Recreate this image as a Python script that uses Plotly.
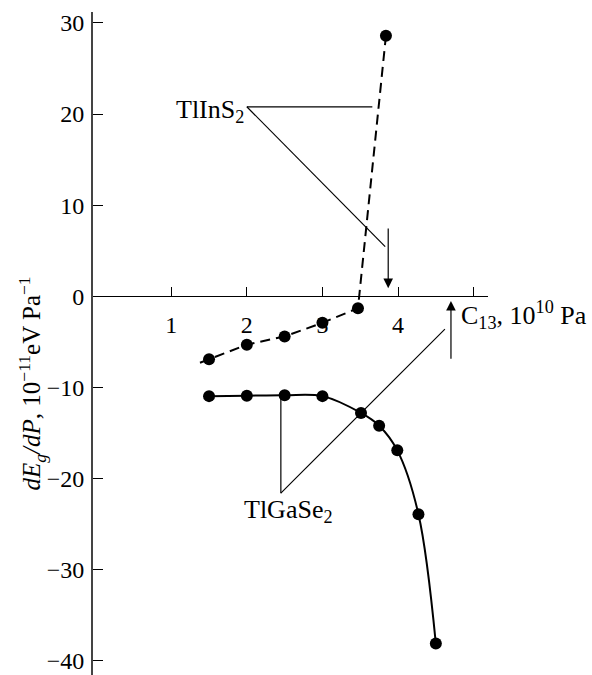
import plotly.graph_objects as go

# ---- data ----
c13_tlins2 = [1.5, 2.0, 2.5, 3.0, 3.47, 3.84]
dedp_tlins2 = [-6.9, -5.3, -4.4, -2.9, -1.3, 28.6]

c13_tlgase2 = [1.5, 2.0, 2.5, 3.0, 3.51, 3.75, 3.99, 4.27, 4.50]
dedp_tlgase2 = [-10.95, -10.9, -10.85, -10.95, -12.8, -14.2, -16.9, -23.9, -38.1]

y_ticks = [-40, -30, -20, -10, 0, 10, 20, 30]
y_ticktext = ["\u221240", "\u221230", "\u221220", "\u221210", "0", "10", "20", "30"]
x_ticks = [1, 2, 3, 4, 5]
x_ticktext = ["1", "2", "3", "4", ""]

FONT = "Liberation Serif"
FS_TICK = 24
FS_LAB = 26
FS_TITLE = 25

x_range = [-0.035, 5.19]
y_range = [-41.55, 31.2]

# dashed line begins slightly before the first point (extrapolated from first segment)
ext = 0.12
slope0 = (dedp_tlins2[1] - dedp_tlins2[0]) / (c13_tlins2[1] - c13_tlins2[0])
dash_x = [c13_tlins2[0] - ext] + c13_tlins2
dash_y = [dedp_tlins2[0] - ext * slope0] + dedp_tlins2

fig = go.Figure()
fig.add_trace(go.Scatter(x=dash_x, y=dash_y, mode="lines",
                         line=dict(color="black", width=2, dash="10px,6px"),
                         hoverinfo="skip", showlegend=False))
fig.add_trace(go.Scatter(x=c13_tlins2, y=dedp_tlins2, mode="markers",
                         marker=dict(color="black", size=12), showlegend=False))
fig.add_trace(go.Scatter(x=c13_tlgase2, y=dedp_tlgase2, mode="lines+markers",
                         line=dict(color="black", width=2, shape="spline", smoothing=1.0),
                         marker=dict(color="black", size=12), showlegend=False))

# leader lines for labels
lw = 1.2
leaders = [
    (2.0, 20.8, 3.66, 20.8),
    (2.0, 20.8, 3.83, 5.45),
    (2.45, -21.6, 2.45, -11.0),
    (2.45, -21.6, 4.62, -3.6),
]
for x0, y0, x1, y1 in leaders:
    fig.add_shape(type="line", x0=x0, y0=y0, x1=x1, y1=y1, xref="x", yref="y",
                  line=dict(color="black", width=lw))

# arrows
arrows = [
    (3.87, 0.9, 3.87, 7.6),
    (4.70, -0.5, 4.70, -7.0),
]
for x, y, ax, ay in arrows:
    fig.add_annotation(x=x, y=y, ax=ax, ay=ay, xref="x", yref="y", axref="x", ayref="y",
                       showarrow=True, arrowhead=2, arrowsize=1.6, arrowwidth=1.2,
                       arrowcolor="black", text="")

fig.add_annotation(x=1.99, y=20.3, xref="x", yref="y", text="TlInS<sub>2</sub>",
                   showarrow=False, xanchor="right", yanchor="middle",
                   font=dict(family=FONT, size=FS_LAB, color="black"))
fig.add_annotation(x=2.55, y=-23.6, xref="x", yref="y", text="TlGaSe<sub>2</sub>",
                   showarrow=False, xanchor="center", yanchor="middle",
                   font=dict(family=FONT, size=FS_LAB, color="black"))
fig.add_annotation(x=4.80, y=-2.05, xref="x", yref="y",
                   text="C<sub>13</sub>, 10<sup>10</sup> Pa",
                   showarrow=False, xanchor="left", yanchor="middle",
                   font=dict(family=FONT, size=FS_LAB, color="black"))
fig.add_annotation(x=-0.154, y=0.44, xref="paper", yref="paper", textangle=-90,
                   text="<i>dE</i><sub><i>g</i></sub><i>/dP</i>, 10<sup>\u221211</sup>eV Pa<sup>\u22121</sup>",
                   showarrow=False, xanchor="center", yanchor="middle",
                   font=dict(family=FONT, size=FS_TITLE, color="black"))

xpos = (0 - y_range[0]) / (y_range[1] - y_range[0])

fig.update_layout(
    width=592, height=675,
    margin=dict(l=93, r=104, t=12, b=0),
    paper_bgcolor="white", plot_bgcolor="white",
    font=dict(family=FONT, size=FS_TICK, color="black"),
    xaxis=dict(range=x_range, showgrid=False, zeroline=False,
               showline=True, linecolor="black", linewidth=1.3,
               anchor="free", position=xpos,
               ticks="inside", ticklen=9, tickwidth=1.3, tickcolor="black",
               ticklabelstandoff=7,
               tickvals=x_ticks, ticktext=x_ticktext,
               tickfont=dict(family=FONT, size=FS_TICK, color="black")),
    yaxis=dict(range=y_range, showgrid=False, zeroline=False,
               showline=True, linecolor="#444", linewidth=2,
               ticks="inside", ticklen=10, tickwidth=1.3, tickcolor="black",
               ticklabelstandoff=2,
               tickvals=y_ticks, ticktext=y_ticktext,
               tickfont=dict(family=FONT, size=FS_TICK, color="black")),
)

fig.write_html("out.html")
